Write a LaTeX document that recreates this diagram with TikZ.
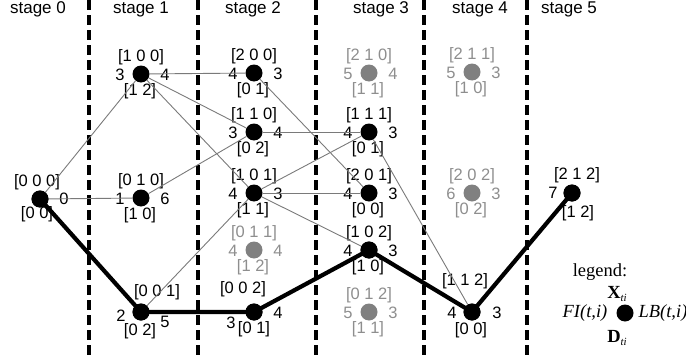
\documentclass[tikz,border=0pt]{standalone}
\usepackage{fontspec}
\setmainfont{Liberation Sans}
\newfontfamily\serifff{Liberation Serif}
\definecolor{ggray}{HTML}{808080}
\definecolor{lgray}{HTML}{8E8E8E}
\definecolor{egray}{HTML}{7A7A7A}
\newcommand\lab[6]{\node[#5] (#1) at ([shift={(#3,#4)}]#2.center) {#6};}
\newcommand\st[8]{% id, x, y, dotstyle, labstyle, top, left, right ... bottom via \stb
  \node[#4] (#1) at (#2,#3) {};
  \lab{#1-t}{#1}{0}{-17}{#5}{#6}
  \lab{#1-l}{#1}{-21}{1}{#5}{#7}
  \lab{#1-r}{#1}{24}{1}{#5}{#8}}
\newcommand\stb[3]{\lab{#1-b}{#1}{-1}{17}{#2}{#3}}
\begin{document}
\begin{tikzpicture}[x=1pt,y=-1pt,
  dot/.style={circle,fill=black,minimum size=17pt,inner sep=0pt},
  gdot/.style={circle,fill=ggray,minimum size=17pt,inner sep=0pt},
  lab/.style={font=\fontsize{16.5}{16.5}\selectfont,inner sep=0pt},
  glab/.style={lab,text=lgray},
  stagelab/.style={font=\fontsize{17}{17}\selectfont,inner sep=0pt,anchor=base},
  leg/.style={font=\serifff\fontsize{18.5}{18.5}\selectfont,inner sep=0pt},
  edge/.style={draw=egray,line width=0.9pt},
  best/.style={draw=black,line width=4.2pt,line join=round},
  sepline/.style={draw=black,line width=3.4pt,dash pattern=on 10pt off 5pt}
]
\useasboundingbox (0,0) rectangle (686,356);
% stage separators
\foreach \i/\x in {1/89,2/198,3/316,4/424,5/527}{
  \coordinate (d\i t) at (\x,0);
  \coordinate (d\i b) at (\x,356);
  \draw[sepline] (d\i t) -- (d\i b);
}
% stage labels
\node[stagelab] (s0) at (38,13) {stage 0};
\node[stagelab] (s1) at (141,13) {stage 1};
\node[stagelab] (s2) at (253,13) {stage 2};
\node[stagelab] (s3) at (381,13) {stage 3};
\node[stagelab] (s4) at (480,13) {stage 4};
\node[stagelab] (s5) at (569,13) {stage 5};

% stage 0
\node[dot] (n000) at (40,199) {};
\lab{n000-t}{n000}{-3}{-17}{lab}{[0 0 0]}
\lab{n000-r}{n000}{24}{0}{lab}{0}
\lab{n000-b}{n000}{-3}{15}{lab}{[0 0]}
% stage 1
\st{n100}{141}{74}{dot}{lab}{[1 0 0]}{3}{4}\stb{n100}{lab}{[1 2]}
\st{n010}{141}{198}{dot}{lab}{[0 1 0]}{1}{6}\stb{n010}{lab}{[1 0]}
\node[dot] (n001) at (141,312) {};
\lab{n001-t}{n001}{16}{-20}{lab}{[0 0 1]}
\lab{n001-l}{n001}{-20}{4}{lab}{2}
\lab{n001-r}{n001}{24}{10}{lab}{5}
\lab{n001-b}{n001}{-1}{19}{lab}{[0 2]}
% stage 2
\st{n200}{254}{73}{dot}{lab}{[2 0 0]}{4}{3}\stb{n200}{lab}{[0 1]}
\st{n110}{254}{132}{dot}{lab}{[1 1 0]}{3}{4}\stb{n110}{lab}{[0 2]}
\st{n101}{254}{193}{dot}{lab}{[1 0 1]}{4}{3}\stb{n101}{lab}{[1 1]}
\st{g011}{254}{250}{gdot}{glab}{[0 1 1]}{4}{4}\stb{g011}{glab}{[1 2]}
\node[dot] (n002) at (254,312) {};
\lab{n002-t}{n002}{-11}{-23}{lab}{[0 0 2]}
\lab{n002-l}{n002}{-23}{11}{lab}{3}
\lab{n002-r}{n002}{24}{1}{lab}{4}
\lab{n002-b}{n002}{0}{17}{lab}{[0 1]}
% stage 3
\st{g210}{369}{73}{gdot}{glab}{[2 1 0]}{5}{4}\stb{g210}{glab}{[1 1]}
\st{n111}{369}{132}{dot}{lab}{[1 1 1]}{4}{3}\stb{n111}{lab}{[0 1]}
\st{n201}{369}{193}{dot}{lab}{[2 0 1]}{4}{3}\stb{n201}{lab}{[0 0]}
\st{n102}{369}{250}{dot}{lab}{[1 0 2]}{4}{3}\stb{n102}{lab}{[1 0]}
\st{g012}{369}{312}{gdot}{glab}{[0 1 2]}{5}{3}\stb{g012}{glab}{[1 1]}
% stage 4
\st{g211}{472}{72}{gdot}{glab}{[2 1 1]}{5}{3}\stb{g211}{glab}{[1 0]}
\st{g202}{472}{193}{gdot}{glab}{[2 0 2]}{6}{3}\stb{g202}{glab}{[0 2]}
\node[dot] (n112) at (472,312) {};
\lab{n112-t}{n112}{-7}{-31}{lab}{[1 1 2]}
\lab{n112-l}{n112}{-20}{1}{lab}{4}
\lab{n112-r}{n112}{25}{1}{lab}{3}
\lab{n112-b}{n112}{-1}{18}{lab}{[0 0]}
% stage 5
\node[dot] (n212) at (572,193) {};
\lab{n212-t}{n212}{5}{-18}{lab}{[2 1 2]}
\lab{n212-l}{n212}{-19}{0}{lab}{7}
\lab{n212-b}{n212}{6}{20}{lab}{[1 2]}

% thin edges
\draw[edge] (n000) -- (n100);
\draw[edge] (n000) -- (n010);
\draw[edge] (n100) -- (n200);
\draw[edge] (n100) -- (n110);
\draw[edge] (n100) -- (n101);
\draw[edge] (n010) -- (n110);
\draw[edge] (n001) -- (n101);
\draw[edge] (n200) -- (n201);
\draw[edge] (n110) -- (n111);
\draw[edge] (n101) -- (n111);
\draw[edge] (n101) -- (n201);
\draw[edge] (n101) -- (n102);
\draw[edge] (n111) -- (n112);
% optimal path
\draw[best] (n000.center) -- (n001.center) -- (n002.center) -- (n102.center) -- (n112.center) -- (n212.center);
\foreach \n in {n000,n001,n002,n102,n112,n212}{\fill (\n) circle (8.5pt);}

% legend
\node[leg] (legt) at (600,272) {legend:};
\node[dot] (legdot) at (625,313) {};
\node[leg] (legx) at (617,294) {\textbf{X}\raisebox{-0.4ex}{\fontsize{11}{11}\selectfont\textit{ti}}};
\node[leg] (legfi) at (585,313) {\textit{FI(t,i)}};
\node[leg] (leglb) at (663,313) {\textit{LB(t,i)}};
\node[leg] (legd) at (617,338) {\textbf{D}\raisebox{-0.4ex}{\fontsize{11}{11}\selectfont\textit{ti}}};
\end{tikzpicture}
\end{document}
